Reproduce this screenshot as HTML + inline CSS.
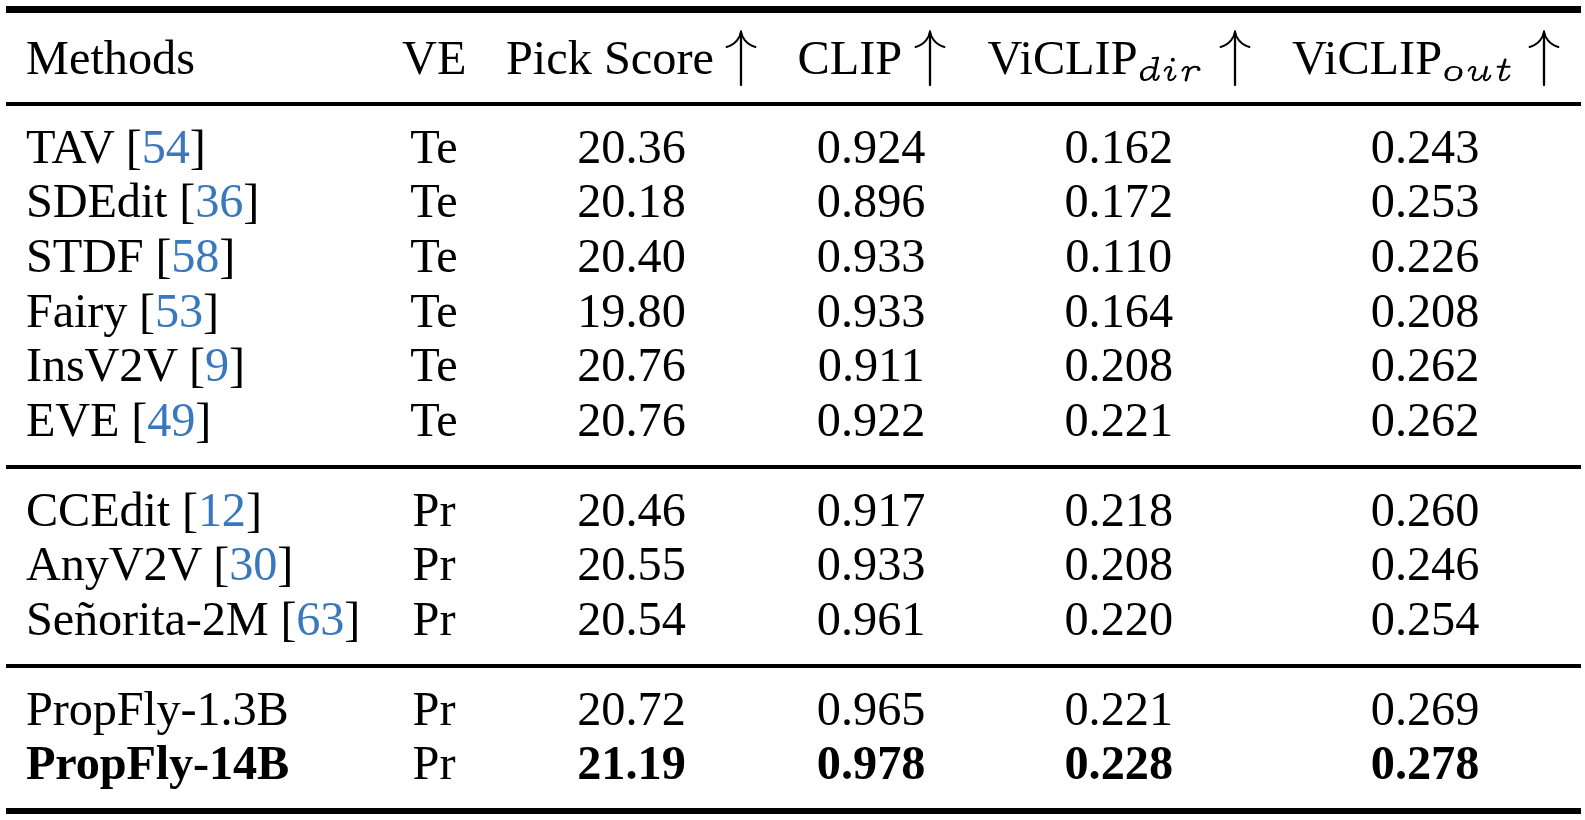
<!DOCTYPE html>
<html><head><meta charset="utf-8">
<style>
html,body{margin:0;padding:0;background:#fff;}
body{width:1585px;height:820px;position:relative;overflow:hidden;
 font-family:"Liberation Serif",serif;color:#000;}
.t{position:absolute;white-space:nowrap;line-height:1;font-size:48.30px;}
.c{text-align:center;width:200px;}
.b{font-weight:bold;}
.cite{color:#3a78bd;}
.nm{letter-spacing:-0.15px;}
.r{position:absolute;background:#000;left:6px;width:1575px;}
.sub{font-style:italic;font-size:33.8px;letter-spacing:3px;}
</style></head><body>

<div class="r" style="top:6px;height:7px"></div>
<div class="r" style="top:102px;height:4px"></div>
<div class="r" style="top:465px;height:4px"></div>
<div class="r" style="top:664px;height:4px"></div>
<div class="r" style="top:808px;height:6px"></div>
<div class="t" style="left:26.0px;top:34.45px">Methods</div>
<div class="t" style="left:402.0px;top:34.45px">VE</div>
<div class="t" style="left:506.0px;top:34.45px">Pick Score</div>
<div class="t" style="left:797.5px;top:34.45px">CLIP</div>
<div class="t" style="left:987.5px;top:34.45px">ViCLIP</div>
<div class="t" style="left:1292.0px;top:34.45px">ViCLIP</div>
<svg width="1585" height="820" style="position:absolute;left:0;top:0" fill="none" stroke="#000" stroke-linecap="round" stroke-linejoin="round">
<style>.st{stroke-width:2.3}.w{stroke-width:2.05}.m{stroke-width:1.9}.mt{stroke-width:2.7}</style>
<path class="st" d="M741.0 33 L741.0 85" /><path class="w" d="M741.0 31.6 C740.3 36.5 736.4 44.3 726.6 47.0" /><path class="w" d="M741.0 31.6 C741.7 36.5 745.6 44.3 755.4 47.0" />
<path class="st" d="M930.0 33 L930.0 85" /><path class="w" d="M930.0 31.6 C929.3 36.5 925.4 44.3 915.6 47.0" /><path class="w" d="M930.0 31.6 C930.7 36.5 934.6 44.3 944.4 47.0" />
<path class="st" d="M1235.0 33 L1235.0 85" /><path class="w" d="M1235.0 31.6 C1234.3 36.5 1230.4 44.3 1220.6 47.0" /><path class="w" d="M1235.0 31.6 C1235.7 36.5 1239.6 44.3 1249.4 47.0" />
<path class="st" d="M1544.0 33 L1544.0 85" /><path class="w" d="M1544.0 31.6 C1543.3 36.5 1539.4 44.3 1529.6 47.0" /><path class="w" d="M1544.0 31.6 C1544.7 36.5 1548.6 44.3 1558.4 47.0" />

<g>
<!-- d -->
<path class="m" d="M1155.2 69.6 C1154.1 67.8 1152.2 67.0 1150.0 67.0 C1145.3 67.0 1141.0 70.8 1141.0 75.2 C1141.0 78.4 1142.8 80.0 1145.0 80.0 C1148.4 80.0 1151.4 77.2 1153.2 74.2"/>
<path d="M1142.2 72.0 C1141.4 74.0 1141.4 77.0 1142.6 78.6" style="stroke-width:2.6"/>
<path class="mt" d="M1157.5 58.0 L1153.7 76.6"/>
<path class="m" d="M1153.7 76.6 C1153.3 78.8 1153.9 80.1 1155.2 80.1 C1157.0 80.1 1158.2 78.2 1158.9 75.9"/>
<path class="m" d="M1152.6 58.1 L1158.2 57.7"/>
<!-- i -->
<circle cx="1172.8" cy="59.7" r="2.0" fill="#000" stroke="none"/>
<path class="m" d="M1164.6 70.7 C1165.6 68.4 1167.4 66.9 1169.4 66.9 C1171.0 66.9 1171.5 68.1 1171.0 69.6"/>
<path class="mt" d="M1171.0 69.6 L1168.8 75.8"/>
<path class="m" d="M1168.8 75.8 C1168.0 78.3 1168.6 80.2 1170.2 80.2 C1172.6 80.2 1174.6 78.1 1175.6 75.9"/>
<!-- r -->
<path class="m" d="M1182.4 70.7 C1183.4 68.4 1184.8 66.9 1186.7 66.9 C1188.4 66.9 1188.9 68.2 1188.5 69.8"/>
<path class="mt" d="M1188.5 69.8 L1185.9 80.2"/>
<path class="m" d="M1188.2 71.2 C1189.8 68.7 1192.2 66.8 1195.4 66.8 C1197.3 66.8 1198.6 67.4 1199.0 68.2"/>
<circle cx="1198.7" cy="69.3" r="1.8" fill="#000" stroke="none"/>
<!-- o -->
<path class="m" d="M1454.0 66.9 C1458.6 66.9 1461.6 69.2 1461.6 72.6 C1461.6 77.0 1457.2 80.2 1452.6 80.2 C1448.0 80.2 1445.3 77.6 1445.3 74.4 C1445.3 70.2 1449.2 66.9 1454.0 66.9 Z"/>
<path class="m" d="M1446.6 77.4 C1445.9 75.2 1446.3 72.0 1448.0 70.0" style="stroke-width:2.6"/>
<path class="m" d="M1460.3 69.8 C1461.0 72.0 1460.6 75.0 1459.0 77.0" style="stroke-width:2.6"/>
<!-- u -->
<path class="m" d="M1468.6 70.7 C1469.6 68.4 1471.4 66.9 1473.4 66.9 C1475.0 66.9 1475.5 68.1 1475.0 69.6"/>
<path class="mt" d="M1475.0 69.6 L1473.1 75.6"/>
<path class="m" d="M1473.1 75.6 C1472.2 78.6 1473.4 80.2 1475.6 80.2 C1478.6 80.2 1480.8 78.0 1482.0 75.6"/>
<path class="mt" d="M1486.6 67.2 L1484.1 77.0"/>
<path class="m" d="M1484.1 77.0 C1483.6 79.0 1484.3 80.2 1485.7 80.2 C1487.7 80.2 1489.5 78.1 1490.4 75.7"/>
<!-- t -->
<path class="mt" d="M1505.2 59.8 L1500.2 77.0"/>
<path class="m" d="M1500.2 77.0 C1499.6 79.3 1500.6 80.3 1502.4 80.3 C1505.4 80.3 1507.8 78.2 1509.3 75.6"/>
<path class="m" d="M1497.6 66.7 L1509.6 66.7"/>
</g>
</svg>
<div class="t nm" style="left:26.0px;top:122.85px">TAV [<span class="cite">54</span>]</div>
<div class="t c" style="left:334.0px;top:122.85px">Te</div>
<div class="t c" style="left:531.5px;top:122.85px">20.36</div>
<div class="t c" style="left:771.2px;top:122.85px">0.924</div>
<div class="t c" style="left:1018.8px;top:122.85px">0.162</div>
<div class="t c" style="left:1325.1px;top:122.85px">0.243</div>
<div class="t nm" style="left:26.0px;top:177.45px">SDEdit [<span class="cite">36</span>]</div>
<div class="t c" style="left:334.0px;top:177.45px">Te</div>
<div class="t c" style="left:531.5px;top:177.45px">20.18</div>
<div class="t c" style="left:771.2px;top:177.45px">0.896</div>
<div class="t c" style="left:1018.8px;top:177.45px">0.172</div>
<div class="t c" style="left:1325.1px;top:177.45px">0.253</div>
<div class="t nm" style="left:26.0px;top:232.05px">STDF [<span class="cite">58</span>]</div>
<div class="t c" style="left:334.0px;top:232.05px">Te</div>
<div class="t c" style="left:531.5px;top:232.05px">20.40</div>
<div class="t c" style="left:771.2px;top:232.05px">0.933</div>
<div class="t c" style="left:1018.8px;top:232.05px">0.110</div>
<div class="t c" style="left:1325.1px;top:232.05px">0.226</div>
<div class="t nm" style="left:26.0px;top:286.65px">Fairy [<span class="cite">53</span>]</div>
<div class="t c" style="left:334.0px;top:286.65px">Te</div>
<div class="t c" style="left:531.5px;top:286.65px">19.80</div>
<div class="t c" style="left:771.2px;top:286.65px">0.933</div>
<div class="t c" style="left:1018.8px;top:286.65px">0.164</div>
<div class="t c" style="left:1325.1px;top:286.65px">0.208</div>
<div class="t nm" style="left:26.0px;top:341.25px">InsV2V [<span class="cite">9</span>]</div>
<div class="t c" style="left:334.0px;top:341.25px">Te</div>
<div class="t c" style="left:531.5px;top:341.25px">20.76</div>
<div class="t c" style="left:771.2px;top:341.25px">0.911</div>
<div class="t c" style="left:1018.8px;top:341.25px">0.208</div>
<div class="t c" style="left:1325.1px;top:341.25px">0.262</div>
<div class="t nm" style="left:26.0px;top:395.95px">EVE [<span class="cite">49</span>]</div>
<div class="t c" style="left:334.0px;top:395.95px">Te</div>
<div class="t c" style="left:531.5px;top:395.95px">20.76</div>
<div class="t c" style="left:771.2px;top:395.95px">0.922</div>
<div class="t c" style="left:1018.8px;top:395.95px">0.221</div>
<div class="t c" style="left:1325.1px;top:395.95px">0.262</div>
<div class="t nm" style="left:26.0px;top:485.85px">CCEdit [<span class="cite">12</span>]</div>
<div class="t c" style="left:334.0px;top:485.85px">Pr</div>
<div class="t c" style="left:531.5px;top:485.85px">20.46</div>
<div class="t c" style="left:771.2px;top:485.85px">0.917</div>
<div class="t c" style="left:1018.8px;top:485.85px">0.218</div>
<div class="t c" style="left:1325.1px;top:485.85px">0.260</div>
<div class="t nm" style="left:26.0px;top:540.45px">AnyV2V [<span class="cite">30</span>]</div>
<div class="t c" style="left:334.0px;top:540.45px">Pr</div>
<div class="t c" style="left:531.5px;top:540.45px">20.55</div>
<div class="t c" style="left:771.2px;top:540.45px">0.933</div>
<div class="t c" style="left:1018.8px;top:540.45px">0.208</div>
<div class="t c" style="left:1325.1px;top:540.45px">0.246</div>
<div class="t nm" style="left:26.0px;top:595.05px">Se&ntilde;orita-2M [<span class="cite">63</span>]</div>
<div class="t c" style="left:334.0px;top:595.05px">Pr</div>
<div class="t c" style="left:531.5px;top:595.05px">20.54</div>
<div class="t c" style="left:771.2px;top:595.05px">0.961</div>
<div class="t c" style="left:1018.8px;top:595.05px">0.220</div>
<div class="t c" style="left:1325.1px;top:595.05px">0.254</div>
<div class="t nm" style="left:26.0px;top:684.75px">PropFly-1.3B</div>
<div class="t c" style="left:334.0px;top:684.75px">Pr</div>
<div class="t c" style="left:531.5px;top:684.75px">20.72</div>
<div class="t c" style="left:771.2px;top:684.75px">0.965</div>
<div class="t c" style="left:1018.8px;top:684.75px">0.221</div>
<div class="t c" style="left:1325.1px;top:684.75px">0.269</div>
<div class="t b nm" style="left:26.0px;top:739.35px">PropFly-14B</div>
<div class="t c" style="left:334.0px;top:739.35px">Pr</div>
<div class="t b c" style="left:531.5px;top:739.35px">21.19</div>
<div class="t b c" style="left:771.2px;top:739.35px">0.978</div>
<div class="t b c" style="left:1018.8px;top:739.35px">0.228</div>
<div class="t b c" style="left:1325.1px;top:739.35px">0.278</div>
</body></html>
